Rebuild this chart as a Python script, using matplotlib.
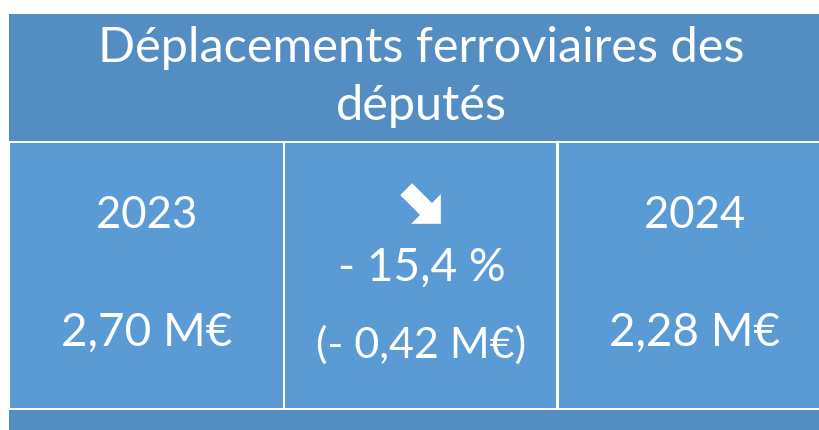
import matplotlib
matplotlib.use("Agg")
import matplotlib.pyplot as plt
from matplotlib.patches import Rectangle, Polygon
import numpy as np

titre = ["Déplacements ferroviaires des", "députés"]
annees = ["2023", "2024"]
montants = [2.70, 2.28]   # M€
variation_pct = -15.4
variation_abs = montants[1] - montants[0]


def fr(x, nd=2):
    return f"{x:.{nd}f}".replace(".", ",")


bleu_fonce = "#548DC2"
bleu_clair = "#5B9BD5"
police = "Lato"

fig = plt.figure(figsize=(8.2, 4.3), dpi=100)
ax = fig.add_axes([0, 0, 1, 1])
ax.set_xlim(0, 820)
ax.set_ylim(430, 0)
ax.axis("off")

# fond général + bandeau des cellules (bordures blanches)
ax.add_patch(Rectangle((9, 14), 820, 420, color=bleu_fonce, lw=0))
ax.add_patch(Rectangle((9, 140.5), 820, 269.5, color="white", lw=0))

cols = [(10.5, 283.5), (285.5, 556.5), (559, 830)]
for x0, x1 in cols:
    ax.add_patch(Rectangle((x0, 143), x1 - x0, 265, color=bleu_clair, lw=0))

ax.text(421, 48, titre[0], ha="center", va="center", color="white",
        fontsize=35, family=police)
ax.text(421, 106, titre[1], ha="center", va="center", color="white",
        fontsize=35, family=police)

centres = [147, 695]
for xc, an, m in zip(centres, annees, montants):
    ax.text(xc, 216, an, ha="center", va="center", color="white",
            fontsize=31.5, family=police)
    ax.text(xc, 333, fr(m) + " M€", ha="center", va="center", color="white",
            fontsize=33, family=police)

ax.text(422, 268, "- " + fr(abs(variation_pct), 1) + " %", ha="center",
        va="center", color="white", fontsize=33, family=police)
ax.text(421, 345, "(- " + fr(abs(variation_abs)) + " M€)", ha="center",
        va="center", color="white", fontsize=31, family=police)

# flèche descendante
pts = np.array([[-17, -6], [3, -6], [3, -15], [18, 0], [3, 15], [3, 6], [-17, 6]]) * 1.4
a = np.deg2rad(45)
rot = np.array([[np.cos(a), -np.sin(a)], [np.sin(a), np.cos(a)]])
pts = pts @ rot.T + np.array([423, 206])
ax.add_patch(Polygon(pts, closed=True, color="white", lw=0))

fig.savefig("out.png", dpi=100)
